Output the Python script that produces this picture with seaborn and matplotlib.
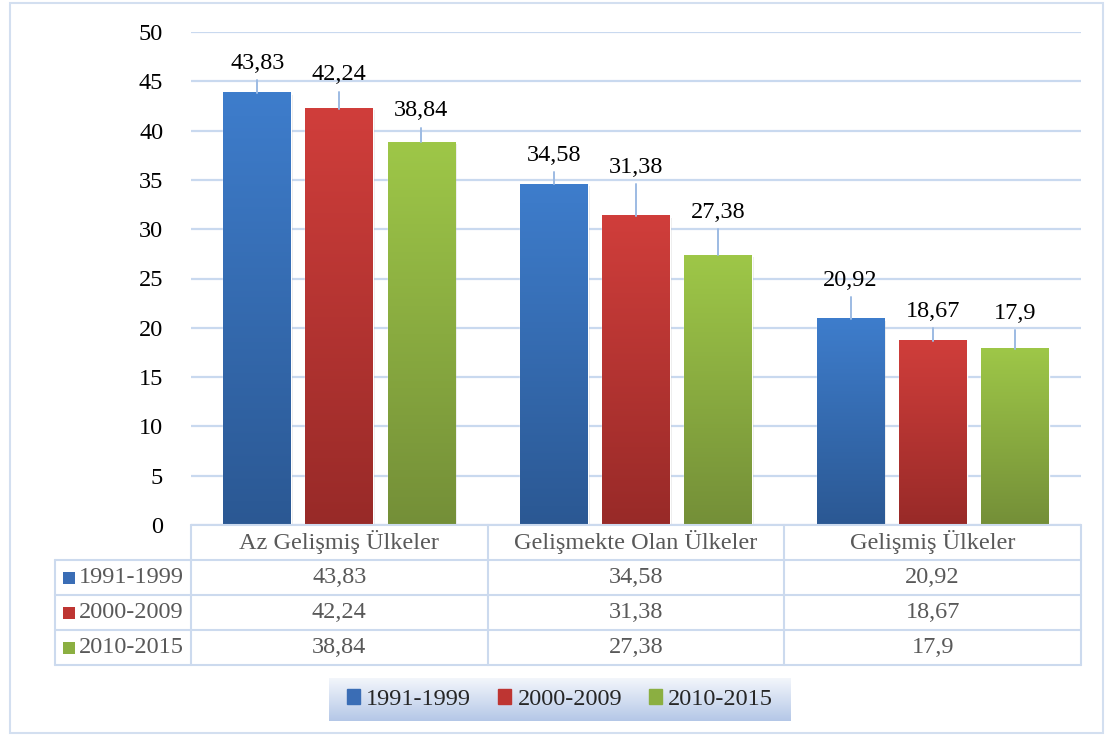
import numpy as np
import pandas as pd
import matplotlib
matplotlib.use('Agg')
import matplotlib.pyplot as plt
import matplotlib.transforms as mtransforms
from matplotlib.colors import LinearSegmentedColormap
from matplotlib.patches import Rectangle
from matplotlib.lines import Line2D
import seaborn as sns

# data
categories = ['Az Gelişmiş Ülkeler', 'Gelişmekte Olan Ülkeler', 'Gelişmiş Ülkeler']
periods = ['1991-1999', '2000-2009', '2010-2015']
v_1991 = [43.83, 34.58, 20.92]
v_2000 = [42.24, 31.38, 18.67]
v_2010 = [38.84, 27.38, 17.9]
yticks = [0, 5, 10, 15, 20, 25, 30, 35, 40, 45, 50]

# label offsets above bar tops (layout only)
label_off = {
    '1991-1999': [3.0, 2.9, 3.9],
    '2000-2009': [3.4, 4.9, 3.0],
    '2010-2015': [3.15, 4.3, 3.6],
}

series = {'1991-1999': v_1991, '2000-2009': v_2000, '2010-2015': v_2010}
rows = []
for p in periods:
    for c, v in zip(categories, series[p]):
        rows.append({'kategori': c, 'donem': p, 'deger': v})
df = pd.DataFrame(rows)

top_cols = {'1991-1999': '#3E7DCC', '2000-2009': '#D03E3B', '2010-2015': '#9EC748'}
bot_cols = {'1991-1999': '#2B5893', '2000-2009': '#982A28', '2010-2015': '#748F38'}
mid_cols = {'1991-1999': '#3A6DB5', '2000-2009': '#BE3532', '2010-2015': '#8BAF41'}

FS = 17.5

sns.set_style('white')
plt.rcParams['font.family'] = ['Liberation Serif', 'DejaVu Serif']

W, H = 1112, 735
fig = plt.figure(figsize=(W / 100, H / 100), dpi=100)

def fx(x):
    return x / W

def fy(y):
    return 1 - y / H

# outer chart border
fig.add_artist(Rectangle((fx(10), fy(733)), fx(1103) - fx(10), fy(3) - fy(733),
                         transform=fig.transFigure, fill=False,
                         edgecolor='#D3DFF0', lw=1.5))

ax = fig.add_axes([fx(191), fy(525), fx(1081) - fx(191), fy(32) - fy(525)])
sns.barplot(data=df, x='kategori', y='deger', hue='donem', order=categories,
            hue_order=periods, palette=[mid_cols[p] for p in periods],
            width=0.83, gap=0.175, legend=False, ax=ax, errorbar=None,
            saturation=1)

ax.set_xlim(-0.5, 2.5)
ax.set_ylim(0, 50)
ax.set_yticks(yticks)
ax.set_yticklabels([str(t) for t in yticks], fontsize=FS, color='black')
ax.tick_params(axis='y', length=0, pad=20)
ax.set_xticks([])
ax.set_xlabel('')
ax.set_ylabel('')
for s in ax.spines.values():
    s.set_visible(False)
ax.yaxis.grid(True, color='#C9D9EF', lw=1.6)
ax.set_axisbelow(True)

# gradient fill + labels
bars = [b for b in ax.patches if b.get_height() > 0]
bars = sorted(bars, key=lambda b: b.get_x())
grad = np.linspace(0, 1, 256).reshape(-1, 1)
for i, b in enumerate(bars):
    ci = i // 3
    p = periods[i % 3]
    v = series[p][ci]
    x0, w, h = b.get_x(), b.get_width(), b.get_height()
    cmap = LinearSegmentedColormap.from_list('g', [bot_cols[p], top_cols[p]])
    # faint shadow
    ax.add_patch(Rectangle((x0 + 0.006, -0.3), w, h + 0.1, color='#000000',
                           alpha=0.08, zorder=1.5, lw=0))
    ax.imshow(grad, extent=[x0, x0 + w, 0, h], origin='lower', aspect='auto',
              cmap=cmap, zorder=2.5)
    b.set_zorder(2)
    off = label_off[p][ci]
    xc = x0 + w / 2
    ax.plot([xc, xc], [h, h + off - 1.7], color='#9DBBE3', lw=1.4, zorder=3)
    ax.text(xc, h + off, f'{v:g}'.replace('.', ','), ha='center', va='center',
            fontsize=FS, color='black', zorder=4)
ax.set_xlim(-0.5, 2.5)
ax.set_ylim(0, 50)

# data table under the plot
tr = mtransforms.blended_transform_factory(ax.transData, fig.transFigure)
line_c = '#CCDAEE'
row_y = [525, 560, 595, 630, 665]
for y in row_y:
    x_left = 191 if y == 525 else 55
    fig.add_artist(Line2D([fx(x_left), fx(1081)], [fy(y), fy(y)],
                          transform=fig.transFigure, color=line_c, lw=1.5))
fig.add_artist(Line2D([fx(55), fx(55)], [fy(560), fy(665)],
                      transform=fig.transFigure, color=line_c, lw=1.5))
for xb in [-0.5, 0.5, 1.5, 2.5]:
    fig.add_artist(Line2D([xb, xb], [fy(525), fy(665)], transform=tr,
                          color=line_c, lw=1.5))

txt_c = '#595959'
for ci, c in enumerate(categories):
    fig.text(ci, fy(542), c, transform=tr, ha='center', va='center',
             fontsize=FS, color=txt_c)
for ri, p in enumerate(periods):
    yc = (row_y[ri + 1] + row_y[ri + 2]) / 2
    fig.add_artist(Rectangle((fx(63), fy(yc + 6)), fx(12), fy(0) - fy(12),
                             transform=fig.transFigure, color=mid_cols[p], lw=0))
    fig.text(fx(79), fy(yc), p, ha='left', va='center', fontsize=FS, color=txt_c)
    for ci in range(len(categories)):
        fig.text(ci, fy(yc), f'{series[p][ci]:g}'.replace('.', ','),
                 transform=tr, ha='center', va='center', fontsize=FS, color=txt_c)

# legend with gradient background
lax = fig.add_axes([fx(329), fy(721), fx(791) - fx(329), fy(678) - fy(721)])
lgrad = np.linspace(0, 1, 256).reshape(-1, 1)
lcmap = LinearSegmentedColormap.from_list('lg', ['#B4C7E7', '#F3F6FB'])
lax.imshow(lgrad, extent=[0, 1, 0, 1], origin='lower', aspect='auto', cmap=lcmap)
lax.set_xlim(0, 1)
lax.set_ylim(0, 1)
lax.axis('off')
handles = [Rectangle((0, 0), 1, 1, color=mid_cols[p]) for p in periods]
lax.legend(handles, periods, loc='center', ncol=3, frameon=False, fontsize=FS,
           handlelength=0.55, handleheight=0.55, handletextpad=0.25,
           columnspacing=1.1)

fig.savefig('out.png', dpi=100)
